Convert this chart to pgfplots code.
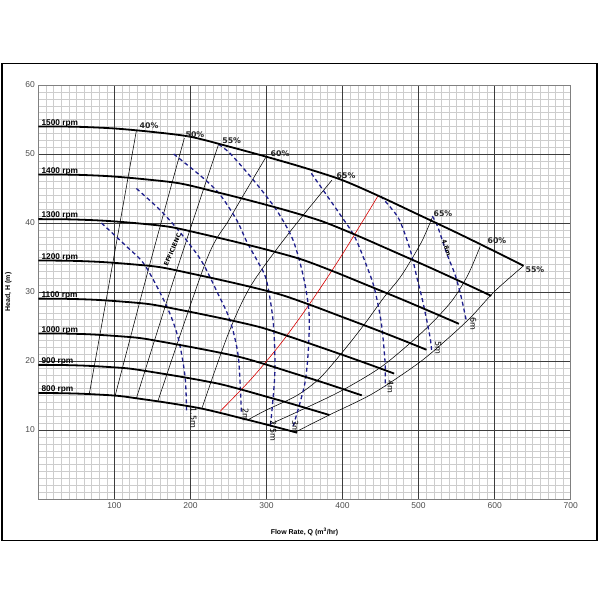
\documentclass[border=0pt]{standalone}
\usepackage{pgfplots}
\pgfplotsset{compat=1.18}
\usepackage{fontspec}
\setmainfont{Liberation Sans}
\newfontfamily\dvs{DejaVu Sans}
\definecolor{npsh}{RGB}{30,30,140}
\definecolor{majgrid}{RGB}{60,60,60}
\definecolor{mingrid}{RGB}{205,205,205}
\pgfplotsset{base/.style={
 at={(38.3pt,101pt)}, anchor=south west,
 scale only axis, width=532.4pt, height=414pt,
 xmin=0,xmax=700,ymin=0,ymax=60,
 xtick={0,100,...,700}, ytick={0,10,...,60},
 minor x tick num=9, minor y tick num=9,
 major tick length=0pt, minor tick length=0pt,
}}
\begin{document}
\begin{tikzpicture}
\path[use as bounding box] (0,0) rectangle (600pt,600pt);
\draw[line width=1.8pt] (2pt,59.5pt) rectangle (597pt,536.5pt);
\begin{axis}[base,
 xticklabels={,100,200,300,400,500,600,700},
 yticklabels={,10,20,30,40,50,60},
 grid=minor,
 minor grid style={mingrid, line width=0.4pt},
 axis line style={draw=none},
 tick label style={font=\fontsize{8.5}{10}\selectfont, text=gray!60!black},
 /pgf/number format/assume math mode=true,
 xlabel={Flow Rate, Q (m\textsuperscript{3}/hr)},
 ylabel={Head, H (m)},
 label style={font=\bfseries\fontsize{7}{8}\selectfont},
 xlabel style={at={(axis description cs:0.5,-0.079)},anchor=center},
 ylabel style={at={(axis description cs:-0.0564,0.5)},anchor=center},
]
\end{axis}
\begin{axis}[base,
 xticklabels={}, yticklabels={},
 grid=major,
 major grid style={majgrid, line width=0.6pt},
 axis line style={gray, line width=0.8pt},
 clip=false,
]
% efficiency lines
\pgfplotsset{eff/.style={black, line width=0.55pt, smooth}}
\addplot[eff] coordinates {(67,15.2)(98.6,34.6)(129,53.4)};
\addplot[eff] coordinates {(101,14.95)(144.6,33.2)(192,52.3)};
\addplot[eff] coordinates {(129,14.6)(183,33.5)(237,51.4)};
\addplot[eff] coordinates {(157,14.1)(221,34.6)(252,40.7)(299,49.5)};
\addplot[eff] coordinates {(215,13.1)(250,24.0)(280,31.0)(330,38.6)(386,46.2)};
\addplot[eff] coordinates {(276,11.5)(300,12.9)(340,15.0)(370,17.5)(400,21.3)(430,25.5)(455,29.3)(475,32.0)(490,34.6)(505,37.5)(518,40.8)};
\addplot[eff] coordinates {(304,10.8)(340,12.6)(397,15.6)(449,19.0)(490,22.7)(520,25.8)(545,28.9)(565,32.5)(581,36.6)};
\addplot[eff] coordinates {(338,9.7)(383,12.2)(440,15.3)(500,19.7)(540,23.4)(570,26.5)(600,30.1)(638,33.8)};
% system (red) line
\addplot[red!85!black, line width=0.6pt, smooth] coordinates {(239,12.7)(280,17.4)(320,22.7)(360,28.8)(400,35.5)(447,44.0)};
% NPSH dashed
\pgfplotsset{np/.style={npsh, line width=1.3pt, dash pattern=on 4pt off 3pt, smooth}}
\addplot[np] coordinates {(83,40.0)(116,36.6)(140,33.9)(169,27.9)(184,23.3)(193,17.7)(195,12.4)};
\addplot[np] coordinates {(129,45.0)(160,41.9)(186,38.7)(214,34.6)(236,29.8)(252,25.9)(263,20.6)(267,12.4)};
\addplot[np] coordinates {(178,50.0)(217,46.5)(239,44.1)(261,40.4)(274,37.3)(289,34.3)(300,31.7)(309,25.5)(311,18.2)(305,10.4)};
\addplot[np] coordinates {(237,51.4)(252,50.1)(283,46.2)(313,41.9)(335,37.5)(349,32.0)(356,26.9)(355,21.5)(350,16.5)(335,10.5)};
\addplot[np] coordinates {(359,47.2)(397,41.2)(416,38.0)(432,33.7)(442,30.5)(451,25.5)(456,19.7)(456,16.3)};
\addplot[np] coordinates {(450,43.9)(462,42.4)(475,40.4)(489,36.1)(498,32.0)(506,28.4)(515,23.5)(517,21.6)};
\addplot[np] coordinates {(518,41.0)(525,39.5)(537,35.6)(548,32.5)(556,29.3)(563,25.7)};
% speed curves
\pgfplotsset{spd/.style={black, line width=1.8pt, smooth}}
\addplot[spd] coordinates {(0,54.0)(50,53.95)(100,53.7)(150,53.2)(200,52.5)(250,51.1)(300,49.6)(350,48.0)(400,46.2)(450,43.8)(500,41.2)(550,38.6)(600,35.9)(638,33.8)};
\addplot[spd] coordinates {(0,47.04)(46.7,47.0)(93.3,46.78)(140,46.34)(186.7,45.73)(233.3,44.51)(280,43.21)(326.7,41.81)(373.3,40.24)(420,38.15)(466.7,35.89)(513.3,33.62)(560,31.27)(595.5,29.44)};
\addplot[spd] coordinates {(0,40.56)(43.3,40.52)(86.7,40.33)(130,39.96)(173.3,39.43)(216.7,38.38)(260,37.25)(303.3,36.05)(346.7,34.70)(390,32.90)(433.3,30.95)(476.7,28.99)(520,26.96)(553,25.39)};
\addplot[spd] coordinates {(0,34.56)(40,34.53)(80,34.37)(120,34.05)(160,33.60)(200,32.70)(240,31.74)(280,30.72)(320,29.57)(360,28.03)(400,26.37)(440,24.70)(480,22.98)(510.4,21.63)};
\addplot[spd] coordinates {(0,29.04)(36.7,29.01)(73.3,28.88)(110,28.61)(146.7,28.23)(183.3,27.48)(220,26.67)(256.7,25.81)(293.3,24.85)(330,23.55)(366.7,22.16)(403.3,20.76)(440,19.31)(467.9,18.18)};
\addplot[spd] coordinates {(0,24.0)(33.3,23.98)(66.7,23.87)(100,23.64)(133.3,23.33)(166.7,22.71)(200,22.04)(233.3,21.33)(266.7,20.53)(300,19.47)(333.3,18.31)(366.7,17.16)(400,15.96)(425.3,15.02)};
\addplot[spd] coordinates {(0,19.44)(30,19.42)(60,19.33)(90,19.15)(120,18.9)(150,18.40)(180,17.86)(210,17.28)(240,16.63)(270,15.77)(300,14.83)(330,13.90)(360,12.92)(382.8,12.17)};
\addplot[spd] coordinates {(0,15.36)(26.7,15.34)(53.3,15.27)(80,15.13)(106.7,14.93)(133.3,14.53)(160,14.11)(186.7,13.65)(213.3,13.14)(240,12.46)(266.7,11.72)(293.3,10.98)(320,10.21)(340.3,9.61)};
% speed labels
\tikzset{sl/.style={anchor=base west, inner sep=0pt, yshift=1.2pt, font=\bfseries\fontsize{8.3}{9}\selectfont}}
\node[sl] at (axis cs:4,54.0) {1500 rpm};
\node[sl] at (axis cs:4,47.04) {1400 rpm};
\node[sl] at (axis cs:4,40.56) {1300 rpm};
\node[sl] at (axis cs:4,34.56) {1200 rpm};
\node[sl] at (axis cs:4,29.04) {1100 rpm};
\node[sl] at (axis cs:4,24.0) {1000 rpm};
\node[sl] at (axis cs:4,19.44) {900 rpm};
\node[sl] at (axis cs:4,15.36) {800 rpm};
% efficiency labels
\tikzset{el/.style={inner sep=0pt, font=\dvs\bfseries\fontsize{7.8}{9}\selectfont, text=black!85}}
\node[el] at (axis cs:145.6,54.06) {40\%};
\node[el] at (axis cs:206,52.8) {50\%};
\node[el] at (axis cs:254.3,52.0) {55\%};
\node[el] at (axis cs:317.8,50.1) {60\%};
\node[el] at (axis cs:404.6,46.8) {65\%};
\node[el] at (axis cs:532,41.4) {65\%};
\node[el] at (axis cs:603,37.4) {60\%};
\node[el] at (axis cs:653,33.2) {55\%};
\node[inner sep=0pt, rotate=67, font=\dvs\bfseries\fontsize{6}{7}\selectfont] at (axis cs:176.4,36.1) {EFFICIENC};
\node[inner sep=0pt, rotate=-72, font=\dvs\bfseries\fontsize{6}{7}\selectfont] at (axis cs:536.7,36.4) {4.8m};
% NPSH labels
\tikzset{nl/.style={anchor=west, rotate=-90, inner sep=0pt, font=\dvs\fontsize{8}{9}\selectfont}}
\node[nl] at (axis cs:204,13.3) {1.5m};
\node[nl] at (axis cs:272.4,13.2) {2m};
\node[nl] at (axis cs:309,11.4) {2.5m};
\node[nl] at (axis cs:338,11.4) {3m};
\node[nl] at (axis cs:463,17.2) {4m};
\node[nl] at (axis cs:526,22.8) {5m};
\node[nl] at (axis cs:572,26.4) {6m};
\end{axis}
\end{tikzpicture}
\end{document}
